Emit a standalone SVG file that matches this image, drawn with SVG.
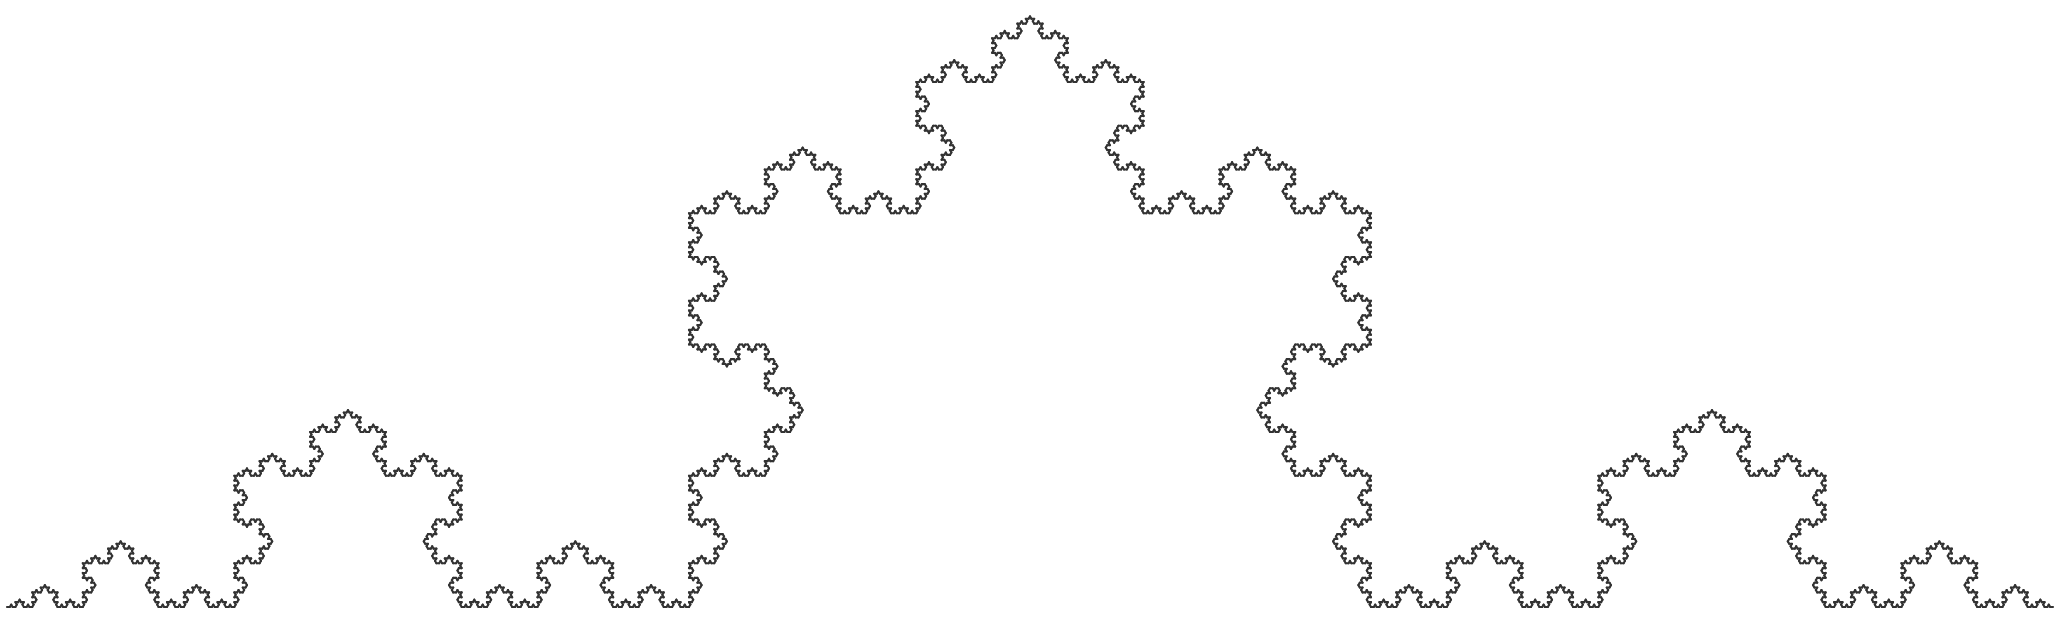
<svg xmlns="http://www.w3.org/2000/svg" xmlns:xlink="http://www.w3.org/1999/xlink" width="2060" height="625" viewBox="0 0 2060 625">
<style>
.seg{stroke:#333333;stroke-width:2.1;stroke-linecap:round;fill:none;vector-effect:non-scaling-stroke}
</style>
<defs>
<line id="k0" class="seg" x1="0" y1="0" x2="1" y2="0" vector-effect="non-scaling-stroke"/>
<g id="k1">
<use href="#k0" transform="scale(0.3333333333)"/>
<use href="#k0" transform="translate(0.3333333333,0) rotate(-60) scale(0.3333333333)"/>
<use href="#k0" transform="translate(0.5,-0.2886751346) rotate(60) scale(0.3333333333)"/>
<use href="#k0" transform="translate(0.6666666667,0) scale(0.3333333333)"/>
</g>
<g id="k2">
<use href="#k1" transform="scale(0.3333333333)"/>
<use href="#k1" transform="translate(0.3333333333,0) rotate(-60) scale(0.3333333333)"/>
<use href="#k1" transform="translate(0.5,-0.2886751346) rotate(60) scale(0.3333333333)"/>
<use href="#k1" transform="translate(0.6666666667,0) scale(0.3333333333)"/>
</g>
<g id="k3">
<use href="#k2" transform="scale(0.3333333333)"/>
<use href="#k2" transform="translate(0.3333333333,0) rotate(-60) scale(0.3333333333)"/>
<use href="#k2" transform="translate(0.5,-0.2886751346) rotate(60) scale(0.3333333333)"/>
<use href="#k2" transform="translate(0.6666666667,0) scale(0.3333333333)"/>
</g>
<g id="k4">
<use href="#k3" transform="scale(0.3333333333)"/>
<use href="#k3" transform="translate(0.3333333333,0) rotate(-60) scale(0.3333333333)"/>
<use href="#k3" transform="translate(0.5,-0.2886751346) rotate(60) scale(0.3333333333)"/>
<use href="#k3" transform="translate(0.6666666667,0) scale(0.3333333333)"/>
</g>
<g id="k5">
<use href="#k4" transform="scale(0.3333333333)"/>
<use href="#k4" transform="translate(0.3333333333,0) rotate(-60) scale(0.3333333333)"/>
<use href="#k4" transform="translate(0.5,-0.2886751346) rotate(60) scale(0.3333333333)"/>
<use href="#k4" transform="translate(0.6666666667,0) scale(0.3333333333)"/>
</g>
<g id="k6">
<use href="#k5" transform="scale(0.3333333333)"/>
<use href="#k5" transform="translate(0.3333333333,0) rotate(-60) scale(0.3333333333)"/>
<use href="#k5" transform="translate(0.5,-0.2886751346) rotate(60) scale(0.3333333333)"/>
<use href="#k5" transform="translate(0.6666666667,0) scale(0.3333333333)"/>
</g>
</defs>
<rect width="2060" height="625" fill="#ffffff"/>
<g id="koch">
<use href="#k6" transform="translate(7,607) scale(2046)"/>
</g>
</svg>
